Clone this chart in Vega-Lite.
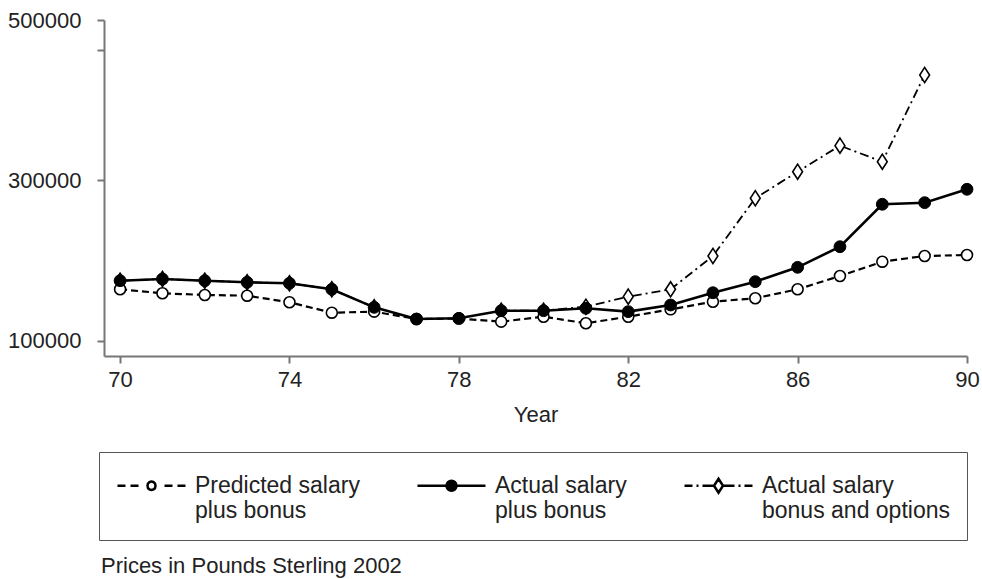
{
  "$schema": "https://vega.github.io/schema/vega-lite/v6.json",
  "width": 863,
  "height": 336,
  "autosize": {"type": "none"},
  "padding": {"left": 104, "top": 20, "right": 15, "bottom": 223},
  "background": "white",
  "config": {
    "font": "Liberation Sans",
    "view": {"stroke": null},
    "axis": {
      "domainColor": "#777",
      "domainWidth": 2,
      "tickColor": "#777",
      "tickWidth": 2,
      "tickSize": 7,
      "labelFont": "Liberation Sans",
      "labelFontSize": 22,
      "labelColor": "#222",
      "labelFlush": false,
      "labelOverlap": false,
      "grid": false,
      "titleFont": "Liberation Sans",
      "titleFontSize": 22,
      "titleFontWeight": "normal",
      "titleColor": "#222"
    }
  },
  "title": {
    "text": "Prices in Pounds Sterling 2002",
    "orient": "bottom",
    "anchor": "start",
    "frame": "group",
    "font": "Liberation Sans",
    "fontSize": 22,
    "fontWeight": "normal",
    "color": "#222",
    "offset": 15,
    "dx": -3
  },
  "data": {
    "values": [
      {"year": 70, "series": "Predicted salary plus bonus", "value": 164200},
      {"year": 71, "series": "Predicted salary plus bonus", "value": 159200},
      {"year": 72, "series": "Predicted salary plus bonus", "value": 157100},
      {"year": 73, "series": "Predicted salary plus bonus", "value": 156200},
      {"year": 74, "series": "Predicted salary plus bonus", "value": 148000},
      {"year": 75, "series": "Predicted salary plus bonus", "value": 135000},
      {"year": 76, "series": "Predicted salary plus bonus", "value": 136300},
      {"year": 77, "series": "Predicted salary plus bonus", "value": 127100},
      {"year": 78, "series": "Predicted salary plus bonus", "value": 127700},
      {"year": 79, "series": "Predicted salary plus bonus", "value": 123800},
      {"year": 80, "series": "Predicted salary plus bonus", "value": 130000},
      {"year": 81, "series": "Predicted salary plus bonus", "value": 121800},
      {"year": 82, "series": "Predicted salary plus bonus", "value": 130000},
      {"year": 83, "series": "Predicted salary plus bonus", "value": 139200},
      {"year": 84, "series": "Predicted salary plus bonus", "value": 148700},
      {"year": 85, "series": "Predicted salary plus bonus", "value": 153000},
      {"year": 86, "series": "Predicted salary plus bonus", "value": 164200},
      {"year": 87, "series": "Predicted salary plus bonus", "value": 180800},
      {"year": 88, "series": "Predicted salary plus bonus", "value": 198600},
      {"year": 89, "series": "Predicted salary plus bonus", "value": 205700},
      {"year": 90, "series": "Predicted salary plus bonus", "value": 207000},
      {"year": 70, "series": "Actual salary plus bonus", "value": 174900},
      {"year": 71, "series": "Actual salary plus bonus", "value": 177000},
      {"year": 72, "series": "Actual salary plus bonus", "value": 174900},
      {"year": 73, "series": "Actual salary plus bonus", "value": 172900},
      {"year": 74, "series": "Actual salary plus bonus", "value": 171700},
      {"year": 75, "series": "Actual salary plus bonus", "value": 164200},
      {"year": 76, "series": "Actual salary plus bonus", "value": 141700},
      {"year": 77, "series": "Actual salary plus bonus", "value": 127100},
      {"year": 78, "series": "Actual salary plus bonus", "value": 128000},
      {"year": 79, "series": "Actual salary plus bonus", "value": 137500},
      {"year": 80, "series": "Actual salary plus bonus", "value": 137500},
      {"year": 81, "series": "Actual salary plus bonus", "value": 140500},
      {"year": 82, "series": "Actual salary plus bonus", "value": 136300},
      {"year": 83, "series": "Actual salary plus bonus", "value": 144600},
      {"year": 84, "series": "Actual salary plus bonus", "value": 159900},
      {"year": 85, "series": "Actual salary plus bonus", "value": 173700},
      {"year": 86, "series": "Actual salary plus bonus", "value": 191600},
      {"year": 87, "series": "Actual salary plus bonus", "value": 217300},
      {"year": 88, "series": "Actual salary plus bonus", "value": 270200},
      {"year": 89, "series": "Actual salary plus bonus", "value": 272200},
      {"year": 90, "series": "Actual salary plus bonus", "value": 288900},
      {"year": 70, "series": "Actual salary bonus and options", "value": 174900},
      {"year": 71, "series": "Actual salary bonus and options", "value": 177000},
      {"year": 72, "series": "Actual salary bonus and options", "value": 174900},
      {"year": 73, "series": "Actual salary bonus and options", "value": 172900},
      {"year": 74, "series": "Actual salary bonus and options", "value": 171700},
      {"year": 75, "series": "Actual salary bonus and options", "value": 164200},
      {"year": 76, "series": "Actual salary bonus and options", "value": 141700},
      {"year": 77, "series": "Actual salary bonus and options", "value": null},
      {"year": 78, "series": "Actual salary bonus and options", "value": null},
      {"year": 79, "series": "Actual salary bonus and options", "value": 137500},
      {"year": 80, "series": "Actual salary bonus and options", "value": 137500},
      {"year": 81, "series": "Actual salary bonus and options", "value": 142500},
      {"year": 82, "series": "Actual salary bonus and options", "value": 155000},
      {"year": 83, "series": "Actual salary bonus and options", "value": 164200},
      {"year": 84, "series": "Actual salary bonus and options", "value": 205700},
      {"year": 85, "series": "Actual salary bonus and options", "value": 277700},
      {"year": 86, "series": "Actual salary bonus and options", "value": 310800},
      {"year": 87, "series": "Actual salary bonus and options", "value": 343300},
      {"year": 88, "series": "Actual salary bonus and options", "value": 323300},
      {"year": 89, "series": "Actual salary bonus and options", "value": 431400}
    ]
  },
  "encoding": {
    "x": {
      "field": "year",
      "type": "quantitative",
      "scale": {"domain": [69.62, 90], "nice": false, "zero": false},
      "axis": {"values": [70, 74, 78, 82, 86, 90], "title": "Year", "labelPadding": 6, "titlePadding": 14}
    },
    "y": {
      "field": "value",
      "type": "quantitative",
      "scale": {"domain": [81000, 500000], "nice": false, "zero": false},
      "axis": {"values": [100000, 300000, 462600, 500000], "title": null, "format": "d", "labelPadding": 16, "labelExpr": "datum.value === 462600 ? '' : datum.label"}
    }
  },
  "layer": [
    {
      "transform": [{"filter": "datum.series === 'Actual salary bonus and options'"}],
      "mark": {"type": "point", "opacity": 0, "filled": false, "strokeWidth": 2.5},
      "encoding": {
        "shape": {
          "field": "series",
          "type": "nominal",
          "scale": {
            "domain": ["Predicted salary plus bonus", "Actual salary plus bonus", "Actual salary bonus and options"],
            "range": [
              "M-1,0H-0.467M-0.133,0H0.4M1,0A0.267,0.267 0 1,0 1.533,0A0.267,0.267 0 1,0 1,0M2.133,0H2.667M3,0H3.533",
              "M-1,0H3.533M0.933,0A0.333,0.333 0 1,0 1.6,0A0.333,0.333 0 1,0 0.933,0Z",
              "M-1,0H-0.467M-0.2,0H-0.067M0.2,0H0.967M1.267,-0.467L1.567,0L1.267,0.467L0.967,0ZM1.567,0H2.333M2.6,0H2.733M3,0H3.533"
            ]
          },
          "legend": {
            "title": null,
            "orient": "none",
            "legendX": -5,
            "legendY": 432,
            "direction": "horizontal",
            "columns": 3,
            "columnPadding": 52,
            "padding": 17,
            "strokeColor": "#555",
            "labelFont": "Liberation Sans",
            "labelFontSize": 23,
            "labelColor": "#222",
            "labelLimit": 400,
            "labelOffset": 46,
            "symbolSize": 900,
            "symbolStrokeWidth": 2.5,
            "symbolStrokeColor": "black",
            "symbolOpacity": 1,
            "labelExpr": "datum.label === 'Predicted salary plus bonus' ? ['Predicted salary', 'plus bonus'] : datum.label === 'Actual salary plus bonus' ? ['Actual salary', 'plus bonus'] : ['Actual salary', 'bonus and options']"
          }
        },
        "fill": {
          "field": "series",
          "type": "nominal",
          "scale": {
            "domain": ["Predicted salary plus bonus", "Actual salary plus bonus", "Actual salary bonus and options"],
            "range": ["white", "black", "white"]
          },
          "legend": {
            "title": null,
            "orient": "none",
            "legendX": -5,
            "legendY": 432,
            "direction": "horizontal",
            "columns": 3
          }
        },
        "stroke": {
          "field": "series",
          "type": "nominal",
          "scale": {
            "domain": ["Predicted salary plus bonus", "Actual salary plus bonus", "Actual salary bonus and options"],
            "range": ["black", "black", "black"]
          },
          "legend": {
            "title": null,
            "orient": "none",
            "legendX": -5,
            "legendY": 432,
            "direction": "horizontal",
            "columns": 3
          }
        }
      }
    },
    {
      "transform": [{"filter": "datum.series === 'Actual salary bonus and options'"}],
      "mark": {"type": "line", "color": "black", "strokeWidth": 1.8, "strokeDash": [9, 4, 2, 4]}
    },
    {
      "transform": [{"filter": "datum.series === 'Actual salary bonus and options' && isValid(datum.value)"}],
      "mark": {"type": "point", "shape": "M0,-1L0.65,0L0,1L-0.65,0Z", "size": 230, "filled": true, "fill": "white", "stroke": "black", "strokeWidth": 1.6, "opacity": 1}
    },
    {
      "transform": [{"filter": "datum.series === 'Predicted salary plus bonus'"}],
      "mark": {"type": "line", "color": "black", "strokeWidth": 2.2, "strokeDash": [7, 4]}
    },
    {
      "transform": [{"filter": "datum.series === 'Predicted salary plus bonus'"}],
      "mark": {"type": "point", "shape": "circle", "size": 120, "filled": true, "fill": "white", "stroke": "black", "strokeWidth": 1.6, "opacity": 1}
    },
    {
      "transform": [{"filter": "datum.series === 'Actual salary plus bonus'"}],
      "mark": {"type": "line", "color": "black", "strokeWidth": 2.6}
    },
    {
      "transform": [{"filter": "datum.series === 'Actual salary plus bonus'"}],
      "mark": {"type": "point", "shape": "circle", "size": 140, "filled": true, "fill": "black", "stroke": "black", "strokeWidth": 1, "opacity": 1}
    }
  ]
}
